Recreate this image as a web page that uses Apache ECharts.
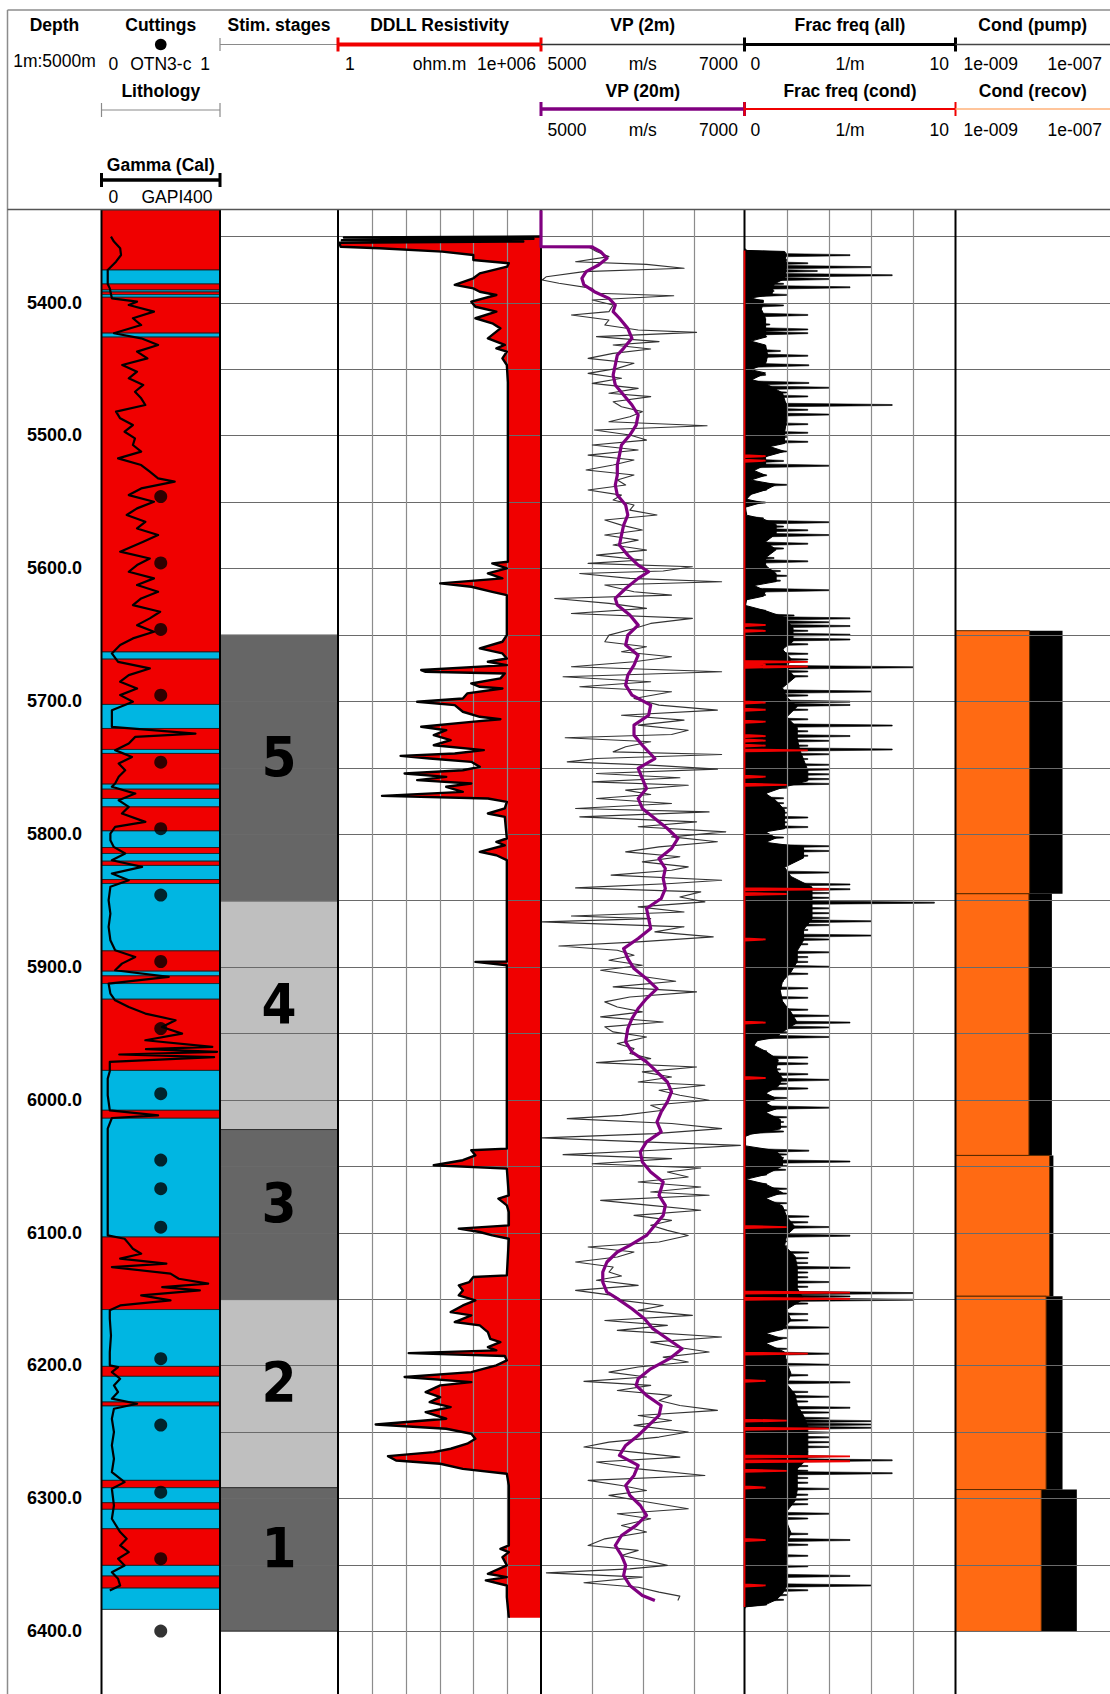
<!DOCTYPE html>
<html><head><meta charset="utf-8">
<script src="https://cdn.jsdelivr.net/npm/echarts@6/dist/echarts.min.js"></script>
<style>html,body{margin:0;padding:0;background:#fff}#c{width:1110px;height:1694px}</style>
</head><body><div id="c"></div>
<script>
// ---------------- DATA ----------------
const depthLabels = [5400,5500,5600,5700,5800,5900,6000,6100,6200,6300,6400];
const gridDepths = [5350,5400,5450,5500,5550,5600,5650,5700,5750,5800,5850,5900,5950,6000,6050,6100,6150,6200,6250,6300,6350,6400];
const ddllTicks = [10,100,1000,10000,100000];
const vpTicks = [5500,6000,6500];
const fracTicks = [2,4,6,8];

// lithology intervals: [top, base, class]  (R = red class, C = cyan class)
const lithoIntervals = [
[5330.3,5375.5,'R'],[5375.5,5386,'C'],[5386,5390.5,'R'],[5390.5,5392,'C'],[5392,5394,'R'],[5394,5396,'C'],
[5396,5423,'R'],[5423,5426,'C'],[5426,5663,'R'],[5663,5668.4,'C'],[5668.4,5702.5,'R'],[5702.5,5720.6,'C'],
[5720.6,5736.4,'R'],[5736.4,5739.4,'C'],[5739.4,5762.5,'R'],[5762.5,5766.3,'C'],[5766.3,5773.3,'R'],[5773.3,5779.6,'C'],
[5779.6,5797.7,'R'],[5797.7,5810.2,'C'],[5810.2,5814.7,'R'],[5814.7,5820.5,'C'],[5820.5,5823.7,'R'],[5823.7,5834.3,'C'],
[5834.3,5837.3,'R'],[5837.3,5888,'C'],[5888,5903.3,'R'],[5903.3,5906.8,'C'],[5906.8,5912.6,'R'],[5912.6,5924.4,'C'],
[5924.4,5978,'R'],[5978,6008,'C'],[6008,6014,'R'],[6014,6103.4,'C'],[6103.4,6158,'R'],[6158,6200.8,'C'],
[6200.8,6208.3,'R'],[6208.3,6227.6,'C'],[6227.6,6230.6,'R'],[6230.6,6286.6,'C'],[6286.6,6292.1,'R'],[6292.1,6303.4,'C'],
[6303.4,6308.4,'R'],[6308.4,6323,'C'],[6323,6350.6,'R'],[6350.6,6358.6,'C'],[6358.6,6367.7,'R'],[6367.7,6383.7,'C']
];

// cuttings samples: [depth, OTN3-c]
const cuttings = [[5546,0.5],[5596,0.5],[5646,0.5],[5695.5,0.5],[5746,0.5],[5796,0.5],[5846,0.5],[5896,0.5],[5946.5,0.5],
[5995.5,0.5],[6045.5,0.5],[6067,0.5],[6096,0.5],[6195,0.5],[6245,0.5],[6295.5,0.5],[6345.5,0.5],[6400,0.5]];

// gamma (Cal): [depth, GAPI]
const gammaLog = [[5350.3,32],[5354.1,42],[5359.1,63],[5364.2,66],[5369.2,49],[5375.4,21],[5380.5,21],[5386,21],[5389.3,28],[5396.8,35],[5399.3,120],[5401.8,92],[5406.8,177],[5411.8,106],[5416.9,134],[5423.1,42],[5426.9,134],[5431.9,191],[5436.9,120],[5442,155],[5447,70],[5452,120],[5457,92],[5462,141],[5467.1,113],[5472.1,134],[5477.1,148],[5482.1,49],[5487.1,63],[5492.2,106],[5497.2,78],[5502.2,113],[5507.2,106],[5512.2,134],[5517.3,56],[5522.3,134],[5527.3,163],[5532.3,191],[5534.8,247],[5539.9,134],[5544.9,92],[5549.9,177],[5554.9,120],[5559.9,85],[5565,148],[5570,120],[5575,191],[5580,141],[5587.5,63],[5592.6,163],[5597.6,120],[5602.6,92],[5607.6,177],[5612.6,120],[5617.7,191],[5622.7,134],[5627.7,106],[5632.7,198],[5637.7,163],[5642.8,120],[5647.8,177],[5652.8,106],[5657.8,63],[5664.1,35],[5670.4,56],[5675.4,163],[5680.4,92],[5685.4,63],[5690.5,120],[5695.5,63],[5700.5,106],[5706.8,35],[5719.4,35],[5724.4,317],[5726.9,114],[5731.9,92],[5736.9,46],[5742,103],[5747,58],[5752,80],[5757,58],[5762,46],[5764.5,35],[5769.6,114],[5774.6,58],[5779.6,92],[5784.6,69],[5790.9,148],[5794.7,46],[5799.7,30],[5804.7,30],[5809.7,41],[5814.7,80],[5819.8,35],[5824.8,137],[5829.8,35],[5834.8,92],[5839.8,30],[5849.9,24],[5859.9,30],[5870,24],[5880,30],[5887.5,46],[5892.6,114],[5897.6,69],[5902.6,46],[5907.6,227],[5912.6,24],[5920.2,30],[5925.2,46],[5930.2,92],[5935.2,148],[5940.2,250],[5945.3,204],[5950.3,272],[5955.3,148],[5960.3,374],[5962,150],[5964,390],[5966,60],[5968,380],[5971.6,28],[5978.6,28],[5984.2,21],[5996.7,21],[6008,28],[6011.8,191],[6013.8,35],[6021.8,21],[6046.9,21],[6072,21],[6089.6,21],[6102.2,21],[6104.7,78],[6108.4,92],[6112.2,106],[6116,134],[6119.7,63],[6123.5,219],[6126,35],[6131,233],[6134.8,261],[6138.5,360],[6141.1,205],[6143.6,332],[6147.3,134],[6151.1,233],[6154.9,63],[6158.6,28],[6164.9,28],[6177.5,32],[6190,28],[6200,28],[6201.3,56],[6205.1,35],[6210.1,63],[6215.1,42],[6220.1,56],[6225.1,35],[6228.9,120],[6232.7,42],[6240.2,35],[6250.2,42],[6260.3,35],[6270.3,42],[6280.4,35],[6287.9,78],[6292.9,35],[6305.5,42],[6315.5,35],[6325.5,63],[6330.6,85],[6335.6,63],[6340.6,92],[6345.6,56],[6350.6,78],[6355.7,35],[6360.7,56],[6365.7,63],[6369.5,28]];

// stimulation stages
const stageNames = ['5','4','3','2','1'];
const stageTop = [5650.3,5850.4,6022.5,6150.5,6292.1];
const stageBase = [5850.4,6022.5,6150.5,6292.1,6400];

// DDLL resistivity: [depth, ohm.m]
const ddllLog = [[5350.2,1e6],[5351,1.5],[5352,6e5],[5353,1.3],[5354,3e5],[5355,1.1],[5358,1.2],[5359.1,17],[5361.6,1200],[5364.2,10000],[5367.9,10000],[5370.4,112000],[5372.9,100000],[5378,15500],[5381.7,10000],[5386.7,2820],[5389.3,10000],[5391.8,15500],[5394.3,47900],[5399.3,8700],[5403.1,11500],[5406.8,47900],[5411.8,11500],[5415.6,36300],[5419.4,63100],[5426.9,26900],[5431.9,85100],[5434.4,47900],[5436.9,97700],[5442,72400],[5447,97700],[5460,105000],[5595.1,105000],[5596.3,36300],[5600.1,97700],[5603.9,26900],[5607.6,72400],[5611.4,1050],[5613.9,8700],[5617.7,36300],[5620.2,97700],[5650.3,97700],[5655.3,72400],[5660.3,15500],[5664.1,72400],[5667.9,97700],[5670.4,26900],[5672.9,97700],[5676.6,288],[5677.9,389],[5679.2,85100],[5682.9,63100],[5686.7,8700],[5689.2,15500],[5690.5,72400],[5694.2,6600],[5698,4900],[5700.5,219],[5703,2820],[5708,4900],[5711.8,15500],[5713.6,63100],[5715.6,8700],[5719.3,288],[5721.9,1580],[5725.6,676],[5729.4,2140],[5733.2,676],[5736.9,20400],[5739.4,2820],[5741.2,71],[5743.2,513],[5745.7,8700],[5749.5,15500],[5752,4900],[5754.5,93],[5757,1580],[5759.5,219],[5762,8700],[5764.5,1580],[5768.3,4900],[5771.3,20],[5773.3,26900],[5775.8,97700],[5780.8,85100],[5784.6,26900],[5787.1,85100],[5803.4,97700],[5805.9,47900],[5808.5,85100],[5813.5,15500],[5816,47900],[5819.7,97700],[5896,97700],[5896.3,11500],[5898.8,97700],[6036.9,97700],[6038.1,8700],[6041.9,11500],[6045.6,4900],[6049.4,676],[6051.9,97700],[6072,112000],[6074.5,55000],[6079.6,97700],[6084.6,112000],[6094.6,112000],[6097.1,3720],[6099.6,15500],[6102.2,36300],[6104.7,112000],[6132.3,97700],[6133.5,10000],[6137.3,7600],[6139.8,3720],[6143.6,4900],[6147.3,3720],[6151.1,11500],[6154.9,4900],[6159.9,2140],[6162.4,8700],[6167.4,2820],[6169.9,15500],[6175,26900],[6180,31600],[6182.5,63100],[6186.2,26900],[6188.7,47900],[6190.8,123],[6193,85100],[6196.3,97700],[6200,47900],[6205.1,8700],[6208.8,93],[6212.6,8700],[6215.1,1050],[6220.1,389],[6223.9,1050],[6227.7,513],[6231.4,2140],[6235.2,389],[6240.2,1580],[6244.5,13],[6247.7,1580],[6251.5,8700],[6255.3,11500],[6259,6600],[6262.8,2140],[6265.3,676],[6268.3,30],[6271.6,52],[6274.1,1050],[6277.9,4900],[6281.6,97700],[6290.4,112000],[6335.6,112000],[6338.1,63100],[6340.6,112000],[6344.4,72400],[6350.6,97700],[6356.9,26900],[6359.4,97700],[6361.9,23400],[6365.7,97700],[6374.5,97700],[6390,112000]];

// VP (20m): [depth, m/s]
const vp20Log = [[5330.5,5000],[5357.9,5000],[5358,5504],[5359.1,5525],[5361.6,5586],[5366.7,5648],[5371.7,5566],[5376.7,5443],[5381.7,5402],[5386.7,5422],[5391.8,5525],[5396.8,5668],[5401.8,5730],[5406.8,5709],[5411.8,5771],[5419.4,5853],[5426.9,5894],[5434.4,5812],[5439.5,5750],[5447,5730],[5454.5,5709],[5462,5730],[5469.6,5812],[5477.1,5894],[5484.6,5955],[5492.2,5935],[5499.7,5873],[5507.2,5791],[5514.8,5771],[5522.3,5750],[5529.8,5750],[5537.3,5730],[5544.9,5750],[5552.4,5832],[5559.9,5853],[5567.5,5812],[5575,5791],[5582.5,5771],[5590.1,5853],[5597.6,5955],[5602.6,6058],[5607.6,5955],[5615.2,5832],[5622.7,5730],[5627.7,5750],[5635.2,5873],[5642.8,5955],[5650.3,5853],[5657.8,5832],[5665.4,5955],[5672.9,5914],[5680.4,5853],[5687.9,5832],[5695.5,5894],[5703,6078],[5710.6,6058],[5718.1,5914],[5725.6,5914],[5733.2,5996],[5743.2,6119],[5750.7,5955],[5758.3,5996],[5765.8,6037],[5773.3,5955],[5780.8,5996],[5788.4,6119],[5795.9,6242],[5803.4,6345],[5811,6283],[5818.5,6160],[5826,6222],[5833.6,6201],[5841.1,6222],[5848.6,6181],[5856.1,6037],[5863.7,6058],[5871.2,6078],[5878.7,5955],[5886.3,5812],[5893.8,5853],[5901.3,5914],[5908.9,6037],[5916.4,6140],[5923.9,6037],[5931.4,5955],[5939,5894],[5946.5,5853],[5956.5,5832],[5964.1,5894],[5971.6,6037],[5979.1,6140],[5986.7,6242],[5994.2,6283],[6001.7,6242],[6009.3,6181],[6016.8,6140],[6024.3,6181],[6031.8,6037],[6039.4,5976],[6046.9,5996],[6054.4,6078],[6062,6201],[6072,6160],[6079.6,6222],[6087.1,6201],[6094.6,6119],[6102.2,6037],[6109.7,5873],[6114.7,5750],[6122.2,5648],[6129.8,5607],[6137.3,5607],[6144.8,5648],[6149.8,5750],[6157.4,5894],[6164.9,6017],[6172.4,6099],[6180,6242],[6187.5,6386],[6195,6263],[6202.6,6078],[6210.1,5955],[6215.1,5935],[6222.6,6037],[6230.2,6181],[6237.7,6160],[6245.2,6058],[6252.8,5955],[6260.3,5832],[6267.8,5771],[6275.3,5955],[6282.9,5914],[6290.4,5832],[6297.9,5873],[6305.5,5976],[6313,6037],[6320.5,5935],[6328.1,5791],[6335.6,5730],[6343.1,5791],[6350.6,5832],[6358.2,5812],[6365.7,5873],[6373.2,5996],[6377,6119]];

// VP (2m): [depth, m/s]
const vp2Log = [[5357.9,5463],[5361.6,5545],[5365.4,5668],[5369.2,5340],[5371.2,6037],[5374.2,6406],[5376.7,5422],[5380.5,5053],[5383,5012],[5385.5,5176],[5389.3,5504],[5393,5545],[5394.8,6304],[5398,5504],[5401.8,5709],[5406.8,5668],[5409.3,5299],[5413.1,5668],[5416.9,5627],[5420.6,5955],[5422.4,6529],[5425.6,5545],[5429.4,6160],[5431.9,5709],[5434.9,6078],[5438.2,5709],[5442,5463],[5445.7,5914],[5449.5,5750],[5453.3,5463],[5457,5791],[5460.8,5504],[5464.6,5955],[5468.3,5668],[5470.8,6078],[5474.6,5709],[5478.4,5791],[5482.1,5996],[5485.9,5873],[5489.7,5668],[5492.7,6632],[5495.9,5525],[5499.7,5873],[5503.5,6037],[5507.2,5504],[5511,5955],[5514.8,5463],[5518.5,5914],[5522.3,5709],[5526,5443],[5529.8,5914],[5533.6,5750],[5537.3,5832],[5541.1,5463],[5544.9,5791],[5548.6,5709],[5552.4,5914],[5556.2,5873],[5559.9,6140],[5563.7,5627],[5567.5,5791],[5571.2,5996],[5575,5627],[5578.8,5955],[5582.5,5709],[5586.3,6037],[5590.1,5545],[5593.8,5996],[5596.3,5463],[5598.8,6488],[5602.1,6201],[5603.9,5381],[5607.6,5873],[5610.1,6775],[5612.6,5627],[5617.7,5914],[5620.2,6283],[5622.7,5135],[5626.4,5668],[5630.2,6037],[5634,5299],[5637.7,6488],[5641.5,6078],[5645.3,5914],[5650.3,5668],[5655.3,5627],[5659.1,6037],[5662.8,5791],[5666.6,6283],[5670.4,5914],[5674.1,5299],[5677.9,6775],[5681.7,5217],[5685.4,6078],[5689.2,5381],[5693,6283],[5698,5914],[5703,6160],[5706.8,6734],[5710.6,5791],[5714.3,6406],[5718.1,5955],[5721.9,6447],[5725.1,6283],[5727.6,5238],[5730.6,6078],[5734.4,5832],[5738.2,5709],[5740.2,6775],[5743.2,5545],[5745.7,5258],[5748.2,6078],[5751.2,6734],[5754.5,5545],[5757.7,6365],[5760.8,5504],[5763.3,6447],[5767,5832],[5770.3,6078],[5773.3,5545],[5777.1,6283],[5780.8,5340],[5783.4,6652],[5787.1,5381],[5790.9,6529],[5794.6,5955],[5798.4,6816],[5802.2,6283],[5805.9,6734],[5809.7,6160],[5813.5,5832],[5817.2,6365],[5821,5996],[5824.8,6447],[5827.3,6283],[5831,5689],[5834.8,6775],[5837.3,6283],[5840.6,5340],[5843.6,6570],[5847.4,6365],[5851.1,6611],[5854.9,5955],[5858.7,6406],[5861.7,5299],[5863.7,6078],[5866.2,5012],[5869.9,6406],[5873.7,6119],[5877.5,6693],[5881.2,5955],[5884.3,5176],[5887.5,5750],[5891.3,5914],[5895,5668],[5898.8,5996],[5902.6,5586],[5906.3,5914],[5910.9,6324],[5915.1,5709],[5918.9,6529],[5922.7,5873],[5926.4,5627],[5930.2,5750],[5933.9,5996],[5937.7,5586],[5941.5,6201],[5945.2,5627],[5949,5709],[5952.8,6037],[5957.8,5750],[5961.6,5914],[5965.3,5873],[5969.1,6078],[5972.1,5545],[5975.4,6529],[5979.1,5996],[5982.9,6283],[5986.7,5955],[5989.2,6611],[5992.9,6160],[5996.7,6365],[6000.5,6652],[6004.2,6078],[6008,6201],[6011.8,5791],[6014.3,5258],[6018,6283],[6021.8,6775],[6025.6,6119],[6028.8,5012],[6031.8,5996],[6034.4,6960],[6038.1,6119],[6041.4,5217],[6044.4,6283],[6048.2,5504],[6051.4,6570],[6054.4,6242],[6058.2,6447],[6062,5955],[6065.7,6570],[6069.5,6078],[6072,6652],[6075.8,5586],[6079.6,6078],[6083.3,6570],[6087.1,5914],[6090.9,6283],[6094.6,6078],[6098.4,6242],[6102.2,6447],[6107.2,6160],[6110.9,5463],[6114.7,5914],[6118.5,5750],[6122.2,5340],[6126,5709],[6129.8,5668],[6132.8,5791],[6136,5545],[6139.8,5955],[6143.6,5340],[6147.3,5709],[6151.1,5791],[6154.9,6201],[6158.6,5955],[6162.4,6488],[6166.2,5627],[6169.9,6242],[6173.7,5750],[6178.7,6775],[6182.5,6078],[6186.2,6324],[6190,6652],[6193.8,6201],[6197.5,6447],[6201.3,5955],[6205.1,5668],[6208.8,6037],[6212.1,5422],[6215.1,6078],[6218.9,5750],[6222.6,6283],[6226.4,6160],[6230.2,6365],[6233.9,6734],[6237.7,5955],[6241.5,6283],[6245.2,5914],[6250.2,6447],[6254,6160],[6257.8,5668],[6261.5,5422],[6265.3,5914],[6269.1,6365],[6272.8,5545],[6277.9,5955],[6282.9,6611],[6286.6,5463],[6290.4,5791],[6294.2,6037],[6297.9,5668],[6301.7,5955],[6308,6447],[6311.7,5750],[6315.5,6078],[6320.5,5791],[6325.5,6037],[6330.6,5627],[6335.6,5463],[6339.3,5955],[6343.1,5791],[6346.9,6037],[6350.6,6242],[6353.2,5873],[6356.2,5053],[6359.4,5996],[6363.7,5422],[6367,5955],[6370.7,6160],[6373.7,6365],[6377,6345]];

// Frac freq (all), spike readings: [depth, 1/m]
const fracAllLog = [[5360.7,0.1],[5362.5,1.95],[5364.3,5],[5367.9,2],[5370.4,3],[5373.3,6],[5376.2,3.45],[5379.4,7],[5382.3,4],[5385.9,1.85],[5388.5,5],[5391.3,1.4],[5394.2,2],[5396.7,0.35],[5398.5,0.9],[5402.1,1.85],[5405.7,0.75],[5409.3,3],[5412.9,1],[5416.5,1.2],[5420.2,3],[5423,3],[5425.6,1.05],[5429.2,0.3],[5432.8,1],[5436.4,1.7],[5440,3],[5443.6,1.05],[5447.2,3.05],[5450.8,0.3],[5454.4,1],[5458,0.35],[5460.5,3.05],[5464.1,4],[5467.7,2],[5470.6,3],[5474.2,1.85],[5477.1,7],[5480.7,3],[5484.3,4],[5487.9,2],[5491.5,3],[5495.1,1.85],[5498,3],[5501.2,2],[5504.8,3],[5508.4,1.2],[5512,2],[5515.6,1.05],[5519.2,1.85],[5522.8,4],[5526.4,0.45],[5530,1.05],[5533.6,0.3],[5537.2,2],[5540.8,1.05],[5544.4,0.3],[5548,0.1],[5550.5,1],[5554.1,0.05],[5558.8,0.1],[5562.4,0.9],[5565.3,4],[5568.6,1.85],[5571.4,3],[5575,4],[5578.6,1.05],[5581.5,3],[5585.1,1.85],[5588.7,1],[5592.3,1.4],[5594.8,3],[5598.4,1.05],[5602.1,1.7],[5605.7,2],[5609.3,1.7],[5612.9,0.45],[5616.5,4],[5620.1,1],[5623.7,0.1],[5627.3,0.05],[5631.9,1],[5635.5,2.35],[5637.7,5],[5640.6,4],[5643.5,5],[5647.1,3],[5650,5],[5653.6,5],[5657.2,3],[5660.8,1.85],[5664.4,3],[5668.7,3],[5671.6,2],[5674.5,8],[5677.7,3],[5681.3,3],[5684.9,2],[5688.5,1.85],[5692.8,6],[5695.7,3],[5700.4,5],[5702.9,5],[5706.5,3],[5710.1,2],[5713.7,3],[5718.4,7],[5722.7,3],[5726.3,5],[5729.9,4],[5733.5,3],[5736.4,7],[5740,4],[5743.6,3],[5747.9,4],[5751.5,4],[5755.1,4],[5758.7,4],[5762.3,4],[5765.2,2],[5769.5,1.05],[5773.1,1.85],[5776.8,1.85],[5780.4,2],[5784,2],[5787.6,3],[5791.2,2],[5794.8,3],[5798.4,1.05],[5802.7,1.85],[5806.3,1.05],[5809.2,4],[5812.8,4],[5816.4,3],[5820,2],[5825.4,1.85],[5829,4],[5832.6,2],[5838,5],[5841.6,5],[5844.5,4],[5848.1,4],[5851.7,9],[5856,4],[5859.6,4],[5863.2,4],[5865.7,6],[5868.6,4],[5872.2,3],[5876.5,6],[5879.4,4],[5883,3],[5889.1,4],[5892.7,3],[5896.3,3],[5899.9,4],[5905.3,3],[5910.7,1.85],[5916.1,3],[5919.7,1.7],[5923.3,3],[5926.9,1.85],[5932.3,3],[5936.9,4],[5942,5],[5945.6,4],[5949.2,2],[5952.8,4],[5955.6,0.6],[5959.2,0.45],[5963.6,1.05],[5968.2,3],[5972.9,3],[5977.2,1.7],[5980.8,3],[5985.1,4],[5988,2],[5991.6,3],[5995.2,1.05],[5998.8,2],[6002.4,1.05],[6006,4],[6009.6,1.05],[6013.2,2],[6016.8,1.85],[6020.4,2],[6024,1.85],[6027.6,0.05],[6031.9,0.05],[6034.8,0.05],[6038.4,3.05],[6041.2,2],[6043.8,1.85],[6046.6,5],[6049.9,2],[6052.8,1.95],[6056.4,1.05],[6060,0.05],[6063.6,1.05],[6067.1,2],[6070.7,2],[6074.3,1.05],[6077.9,2],[6083.3,2],[6088,3.05],[6092.3,3],[6095.9,4],[6099.5,1.85],[6102.4,5],[6106.7,2],[6110.3,2],[6115,3.05],[6119.3,3],[6122.9,3],[6126.5,5],[6130.1,3],[6133.7,3],[6137.3,4],[6140.9,3],[6145.6,8],[6148.1,5],[6150.6,8],[6153.5,3],[6157.1,2],[6161.4,3],[6166.1,3],[6171.5,4],[6175.8,1.05],[6179.4,2],[6183.3,1.05],[6187.6,2],[6191.2,4],[6195.9,2],[6199.5,4],[6203.1,2],[6207.4,3],[6212.8,5],[6216.4,2],[6220,3],[6223.6,4],[6227.2,3],[6231.9,5],[6235.5,4],[6239.8,4],[6242,6],[6244.5,6],[6247,6],[6250.6,4],[6254.2,4],[6257.8,4],[6261.4,4],[6265,3],[6268.6,4],[6271.5,7],[6275.8,3],[6279.4,3],[6281.2,7],[6284.8,3],[6288.4,3],[6293,4],[6297.4,3],[6301,3],[6304.5,3],[6308.1,2],[6311.7,4],[6315.3,3],[6318.9,2],[6322.5,2],[6326.9,3],[6331.5,5],[6335.1,3],[6338.7,2],[6343.4,3],[6347.7,2],[6351.3,3],[6354.9,2],[6358.5,5],[6362.1,2],[6365.7,6],[6369.3,3],[6372.9,2],[6376.5,1.85],[6380.1,1.05],[6381.9,0.05]];

// Frac freq (all), level of the dense core between spikes: [depth, 1/m]
const fracAllCore = [[5360.7,0],[5361.5,1.9],[5372,2],[5382,1.9],[5386,1.4],[5394,1.3],[5396.5,0.3],[5399,0.9],[5405,0.8],[5412,1.0],[5420,1.0],[5426,1.0],[5429,0.3],[5432,1.0],[5440,1.1],[5446,1.0],[5450.5,0.3],[5453,1.0],[5458,0.35],[5461,1.0],[5468,1.8],[5478,2],[5488,2],[5498,1.9],[5506,1.9],[5508.4,1.2],[5512,1.9],[5516,1.0],[5522,1.0],[5526.4,0.45],[5530,1.0],[5533.6,0.3],[5537,1.5],[5541,1.0],[5544.4,0.3],[5548,0.1],[5550.5,0.8],[5554,0.05],[5560,0.1],[5563,0.9],[5567,1.5],[5574,1.5],[5580,1.0],[5586,1.5],[5592,1.0],[5598,1.0],[5604,1.5],[5610,1.5],[5613,0.45],[5617,1.0],[5621,0.9],[5623.7,0.1],[5628,0.05],[5632,1.0],[5637,1.9],[5645,2.3],[5655,2.3],[5661,1.8],[5668,2.2],[5675,2.0],[5682,2.4],[5690,1.8],[5697,2.0],[5704,2.5],[5712,2.0],[5720,2.5],[5728,2.5],[5736,2.6],[5744,2.8],[5752,3],[5760,3],[5765,1.8],[5769.5,1.0],[5775,1.5],[5782,1.9],[5790,1.9],[5796,1.9],[5798.4,1.0],[5803,1.5],[5806.3,1.0],[5810,2.8],[5818,2.8],[5825,1.9],[5832,2.2],[5840,3.2],[5848,3.2],[5856,3.2],[5864,3.2],[5872,2.8],[5880,2.8],[5888,2.5],[5896,2.5],[5904,2.2],[5911,1.8],[5918,1.7],[5926,1.8],[5934,2.2],[5942,2.5],[5949,1.8],[5953,1.5],[5955.6,0.6],[5959.2,0.45],[5963.6,1.0],[5970,1.6],[5977,1.5],[5984,1.8],[5990,1.6],[5995.2,1.0],[5999,1.5],[6002.4,1.0],[6007,1.5],[6009.6,1.0],[6015,1.7],[6022,1.7],[6026,0.3],[6027.6,0.05],[6034.8,0.05],[6038.4,1.5],[6044,1.8],[6050,1.8],[6056.4,1.0],[6060,0.05],[6063.6,1.0],[6070,1.8],[6074.3,1.0],[6080,1.8],[6088,2],[6096,2.4],[6102,2],[6110,1.9],[6118,2.4],[6126,2.5],[6134,2.5],[6142,2.5],[6150,2.8],[6158,2],[6166,2.2],[6173,1.8],[6175.8,1.0],[6180,1.8],[6183.3,1.0],[6190,1.9],[6198,2],[6206,2.2],[6214,2],[6222,2.4],[6230,2.5],[6238,2.8],[6246,3],[6254,3],[6262,3],[6270,3],[6278,2.5],[6286,2.5],[6294,2.5],[6302,2.4],[6310,2],[6318,2],[6326,2.2],[6334,2],[6342,2],[6350,2],[6358,2],[6366,2],[6372,1.8],[6376.5,1.5],[6380.1,1.0],[6381.9,0]];

// Frac freq (cond): [depth, 1/m]
const fracCondLog = [[5360.7,0],[5514.8,0],[5515.6,1],[5516.4,0],[5518.2,0],[5519,1],[5519.8,0],[5641.9,0],[5642.7,1],[5643.5,0],[5646.3,0],[5647.1,1],[5647.9,0],[5669.7,0],[5670.5,3],[5671.3,0],[5671.7,0],[5672.5,1],[5673.3,0],[5673.3,0],[5674.1,3],[5674.9,0],[5700.3,0],[5701.1,1],[5701.9,0],[5705.7,0],[5706.5,1],[5707.3,0],[5714.7,0],[5715.5,1],[5716.3,0],[5725.5,0],[5726.3,1],[5727.1,0],[5728.9,0],[5729.7,1],[5730.5,0],[5732.7,0],[5733.5,1],[5734.3,0],[5736.3,0],[5737.1,3],[5737.9,0],[5756.1,0],[5756.9,1],[5757.7,0],[5762.2,0],[5763,2],[5763.8,0],[5840.8,0],[5841.6,4],[5842.4,0],[5844.4,0],[5845.2,2],[5846,0],[5878.6,0],[5879.4,1],[5880.2,0],[5941.2,0],[5942,1],[5942.8,0],[5982.9,0],[5983.7,1],[5984.5,0],[6095.1,0],[6095.9,2],[6096.7,0],[6144.4,0],[6145.2,5],[6146,0],[6149.1,0],[6149.9,5],[6150.7,0],[6190.4,0],[6191.2,3],[6192,0],[6210.9,0],[6211.7,1],[6212.5,0],[6240.8,0],[6241.6,2],[6242.4,0],[6246.9,0],[6247.7,4],[6248.5,0],[6267.8,0],[6268.6,5],[6269.4,0],[6271.4,0],[6272.2,5],[6273,0],[6278.6,0],[6279.4,2],[6280.2,0],[6291.2,0],[6292,1],[6292.8,0],[6330.7,0],[6331.5,1],[6332.3,0],[6364.9,0],[6365.7,1],[6366.5,0],[6381.9,0]];

// conductivity per stage interval
const condTop = [5647,5845,6042,6148,6293.5];
const condBase = [5845,6042,6148,6293.5,6400.3];
const condPump = [2.43e-8,1.77e-8,1.85e-8,2.43e-8,3.72e-8];
const condRecov = [9.1e-9,8.93e-9,1.65e-8,1.49e-8,1.29e-8];

// ---------------- LAYOUT / STYLE ----------------
const TOP = 210, H = 1484, YMIN = 5330.3, YMAX = 6447.4;
const TR = [[7.5,101.5],[101.5,220],[220,338],[338,541],[541,744.5],[744.5,955.5],[955.5,1110]];
const RED = '#F00000', CYAN = '#00B6E2', PURPLE = '#800080', ORANGE = '#FF6A13';
const FONT = "'Liberation Sans', Arial, sans-serif";
const BIG = "'Liberation Sans Narrow','DejaVu Sans Condensed','Liberation Sans',sans-serif";

const chart = echarts.init(document.getElementById('c'), null, {renderer: 'svg', width: 1110, height: 1694});

const grids = TR.map(t => ({left: t[0], top: TOP, width: t[1] - t[0], height: H, show: false}));
const yAxes = TR.map((t, i) => ({gridIndex: i, type: 'value', min: YMIN, max: YMAX, inverse: true, show: false}));
const xAxes = [
  {gridIndex: 0, type: 'value', min: 0, max: 1, show: false},
  {gridIndex: 1, type: 'value', min: 0, max: 400, show: false},
  {gridIndex: 1, type: 'value', min: 0, max: 1, show: false, position: 'top'},
  {gridIndex: 2, type: 'value', min: 0, max: 1, show: false},
  {gridIndex: 3, type: 'log', logBase: 10, min: 1, max: 1e6, show: false},
  {gridIndex: 4, type: 'value', min: 5000, max: 7000, show: false},
  {gridIndex: 5, type: 'value', min: 0, max: 10, show: false},
  {gridIndex: 6, type: 'log', logBase: 10, min: 1e-9, max: 1e-7, show: false}
];

const crisp = v => Math.round(v) + 0.5;

function hGrid(xi, yi, xRef, z) {
  return {type: 'custom', xAxisIndex: xi, yAxisIndex: yi, z: z, silent: true, animation: false,
    encode: {x: 0, y: 1}, data: gridDepths.map(d => [xRef, d]),
    renderItem: (p, api) => {
      const cs = p.coordSys; const y = crisp(api.coord([api.value(0), api.value(1)])[1]);
      return {type: 'line', shape: {x1: cs.x, y1: y, x2: cs.x + cs.width, y2: y}, style: {stroke: '#6a6a6a', lineWidth: 1.2}};
    }};
}
function vGrid(xi, yi, ticks, z) {
  return {type: 'custom', xAxisIndex: xi, yAxisIndex: yi, z: z, silent: true, animation: false,
    encode: {x: 0, y: 1}, data: ticks.map(v => [v, YMIN]),
    renderItem: (p, api) => {
      const cs = p.coordSys; const x = crisp(api.coord([api.value(0), api.value(1)])[0]);
      return {type: 'line', shape: {x1: x, y1: cs.y, x2: x, y2: cs.y + cs.height}, style: {stroke: '#8c8c8c', lineWidth: 1.2}};
    }};
}
// filled polygon between a log curve and a fixed axis value (edge)
function fillSeries(xi, yi, log, edge, fill, stroke, z, sw) {
  return {type: 'custom', xAxisIndex: xi, yAxisIndex: yi, z: z, silent: true, animation: false,
    encode: {x: 0, y: 1}, data: log.map(([d, v]) => [v, d]),
    renderItem: (p, api) => {
      if (p.dataIndex !== 0) return null;
      const pts = log.map(([d, v]) => api.coord([v, d]));
      pts.push(api.coord([edge, log[log.length - 1][0]]));
      pts.unshift(api.coord([edge, log[0][0]]));
      return {type: 'polygon', shape: {points: pts}, style: {fill: fill, stroke: stroke || null, lineWidth: stroke ? (sw || 1.6) : 0, lineJoin: 'miter'}};
    }};
}
// tapering horizontal spikes from zero to each reading
function spikeSeries(xi, yi, log, color, halfH, z) {
  return {type: 'custom', xAxisIndex: xi, yAxisIndex: yi, z: z, silent: true, animation: false,
    encode: {x: 0, y: 1}, data: log.map(([d, v]) => [v, d]),
    renderItem: (p, api) => {
      const a = api.coord([0, api.value(1)]), b = api.coord([api.value(0), api.value(1)]);
      return {type: 'polygon', shape: {points: [[a[0], a[1] - halfH], [b[0], b[1] - 0.5], [b[0], b[1] + 0.5], [a[0], a[1] + halfH]]},
        style: {fill: color, stroke: color, lineWidth: 0.6}};
    }};
}
function lineSeries(xi, yi, log, color, width, z) {
  return {type: 'line', xAxisIndex: xi, yAxisIndex: yi, z: z, silent: true, animation: false,
    data: log.map(([d, v]) => [v, d]), showSymbol: false, symbol: 'none',
    lineStyle: {color: color, width: width, join: 'round'}};
}

const series = [];
// depth labels
series.push({type: 'custom', xAxisIndex: 0, yAxisIndex: 0, z: 5, silent: true, animation: false,
  encode: {x: 0, y: 1}, data: depthLabels.map(d => [0.5, d]),
  renderItem: (p, api) => {
    const pt = api.coord([api.value(0), api.value(1)]);
    return {type: 'text', x: pt[0], y: pt[1], style: {text: api.value(1).toFixed(1), fill: '#000',
      font: 'bold 18px ' + FONT, align: 'center', verticalAlign: 'middle', textAlign: 'center', textVerticalAlign: 'middle'}};
  }});
// lithology
series.push({type: 'custom', xAxisIndex: 1, yAxisIndex: 1, z: 1, silent: true, animation: false,
  encode: {x: 0, y: [1, 2]}, data: lithoIntervals.map(([t, b]) => [0, t, b]),
  renderItem: (p, api) => {
    const cs = p.coordSys; const it = lithoIntervals[p.dataIndex];
    const y1 = api.coord([0, it[0]])[1], y2 = api.coord([0, it[1]])[1];
    return {type: 'rect', shape: {x: cs.x, y: y1, width: cs.width, height: y2 - y1},
      style: {fill: it[2] === 'R' ? RED : CYAN, stroke: '#1a1a1a', lineWidth: 0.8}};
  }});
series.push(lineSeries(1, 1, gammaLog, '#000', 2.2, 3));
series.push({type: 'scatter', xAxisIndex: 2, yAxisIndex: 1, z: 4, silent: true, animation: false,
  data: cuttings.map(([d, v]) => [v, d]), symbol: 'circle', symbolSize: 13, itemStyle: {color: '#000'}});
// stim stages
series.push({type: 'custom', xAxisIndex: 3, yAxisIndex: 2, z: 1, silent: true, animation: false,
  encode: {x: 0, y: [1, 2]}, data: stageNames.map((n, i) => [0.5, stageTop[i], stageBase[i]]),
  renderItem: (p, api) => {
    const cs = p.coordSys; const i = p.dataIndex;
    const y1 = api.coord([0.5, stageTop[i]])[1], y2 = api.coord([0.5, stageBase[i]])[1];
    const dark = (+stageNames[i]) % 2 === 1;
    return {type: 'rect', shape: {x: cs.x, y: y1, width: cs.width, height: y2 - y1},
      style: {fill: dark ? '#666666' : '#BFBFBF', stroke: '#333', lineWidth: 1}};
  }});
series.push(hGrid(3, 2, 0.5, 2));
series.push({type: 'custom', xAxisIndex: 3, yAxisIndex: 2, z: 4, silent: true, animation: false,
  encode: {x: 0, y: 1}, data: stageNames.map((n, i) => [0.5, (stageTop[i] + stageBase[i]) / 2]),
  renderItem: (p, api) => {
    const pt = api.coord([api.value(0), api.value(1)]);
    return {type: 'text', x: pt[0], y: pt[1] - 12, style: {text: stageNames[p.dataIndex], fill: '#000',
      font: 'bold 56px ' + BIG, align: 'center', verticalAlign: 'middle', textAlign: 'center', textVerticalAlign: 'middle'}};
  }});
// DDLL
series.push(fillSeries(4, 3, ddllLog, 1e6, RED, null, 1));
series.push(hGrid(4, 3, 1, 2));
series.push(vGrid(4, 3, ddllTicks, 2));
series.push(lineSeries(4, 3, ddllLog, '#000', 2.4, 3));
// VP
series.push(hGrid(5, 4, 5000, 1));
series.push(vGrid(5, 4, vpTicks, 1));
series.push(lineSeries(5, 4, vp2Log, '#333', 1.1, 2));
series.push(lineSeries(5, 4, vp20Log, PURPLE, 3.2, 60));
// Frac
series.push(fillSeries(6, 5, fracAllCore, 0, '#000', '#000', 1, 1));
series.push(spikeSeries(6, 5, fracAllLog, '#000', 2.2, 1));
series.push(fillSeries(6, 5, fracCondLog, 0, RED, RED, 60, 1.8));
series.push(hGrid(6, 5, 0, 3));
series.push(vGrid(6, 5, fracTicks, 3));
// Cond
function condRects(vals, fill, stroke, z) {
  return {type: 'custom', xAxisIndex: 7, yAxisIndex: 6, z: z, silent: true, animation: false,
    encode: {x: 0, y: [1, 2]}, data: vals.map((v, i) => [v, condTop[i], condBase[i]]),
    renderItem: (p, api) => {
      const i = p.dataIndex;
      const a = api.coord([1e-9, condTop[i]]), b = api.coord([vals[i], condBase[i]]);
      return {type: 'rect', shape: {x: a[0], y: a[1], width: b[0] - a[0], height: b[1] - a[1]},
        style: {fill: fill, stroke: stroke, lineWidth: stroke ? 1 : 0}};
    }};
}
series.push(condRects(condPump, '#000', null, 1));
series.push(condRects(condRecov, ORANGE, '#5a2a00', 2));
series.push(hGrid(7, 6, 1e-9, 3));

// ---------------- HEADER (graphic) ----------------
const G = [];
const cx = i => (TR[i][0] + TR[i][1]) / 2;
function T(x, y, s, bold, align) {
  G.push({type: 'text', x: x, y: y, z: 100, silent: true, style: {text: s, fill: '#000',
    font: (bold ? 'bold ' : '') + '17.5px ' + FONT, align: align || 'center', verticalAlign: 'middle',
    textAlign: align || 'center', textVerticalAlign: 'middle'}});
}
function L(x1, y1, x2, y2, color, w, z) {
  G.push({type: 'line', z: z || 100, silent: true, shape: {x1: x1, y1: y1, x2: x2, y2: y2}, style: {stroke: color, lineWidth: w}});
}
function scale(i, y, color, w, ticks, tickW) {
  L(TR[i][0], y, TR[i][1], y, color, w);
  if (ticks) { L(TR[i][0], y - 7, TR[i][0], y + 7, color, tickW || w); L(TR[i][1], y - 7, TR[i][1], y + 7, color, tickW || w); }
}
// frame
L(7.5, 10, 1110, 10, '#8c8c8c', 1.5);
L(7.5, 10, 7.5, 1694, '#8c8c8c', 1.5);
L(7.5, 209.5, 1110, 209.5, '#555', 1.5);
for (let i = 1; i < TR.length; i++) L(TR[i][0], 209.5, TR[i][0], 1694, '#000', 2, 50);
// titles row 1
T(cx(0), 25, 'Depth', true);
T(cx(0), 61, '1m:5000m', false);
T(cx(1), 25, 'Cuttings', true);
G.push({type: 'circle', z: 100, silent: true, shape: {cx: cx(1), cy: 44.5, r: 5.8}, style: {fill: '#000'}});
T(TR[1][0] + 7, 64, '0', false, 'left'); T(cx(1), 64, 'OTN3-c', false); T(TR[1][1] - 10, 64, '1', false, 'right');
T(cx(1), 91, 'Lithology', true);
scale(1, 110, '#8a8a8a', 1.2, true);
T(cx(1), 165, 'Gamma (Cal)', true);
scale(1, 180, '#000', 3.5, true, 3);
T(TR[1][0] + 7, 197, '0', false, 'left'); T(TR[1][1] - 7.5, 197, 'GAPI400', false, 'right');
T(cx(2), 25, 'Stim. stages', true);
L(TR[2][0], 44.5, TR[2][1], 44.5, '#8a8a8a', 1.2); L(TR[2][0], 38, TR[2][0], 51, '#8a8a8a', 1.2);
T(cx(3), 25, 'DDLL Resistivity', true);
scale(3, 44.5, RED, 4, true, 3);
T(TR[3][0] + 7, 64, '1', false, 'left'); T(cx(3), 64, 'ohm.m', false); T(TR[3][1] - 5, 64, '1e+006', false, 'right');
T(cx(4), 25, 'VP (2m)', true);
L(TR[4][0], 44.5, TR[4][1], 44.5, '#333', 1.3);
T(TR[4][0] + 6.5, 64, '5000', false, 'left'); T(cx(4), 64, 'm/s', false); T(TR[4][1] - 6.5, 64, '7000', false, 'right');
T(cx(4), 91, 'VP (20m)', true);
scale(4, 109, PURPLE, 3.5, true, 3);
T(TR[4][0] + 6.5, 130, '5000', false, 'left'); T(cx(4), 130, 'm/s', false); T(TR[4][1] - 6.5, 130, '7000', false, 'right');
T(cx(5), 25, 'Frac freq (all)', true);
scale(5, 44.5, '#000', 3, true, 3);
T(TR[5][0] + 6, 64, '0', false, 'left'); T(cx(5), 64, '1/m', false); T(TR[5][1] - 6.5, 64, '10', false, 'right');
T(cx(5), 91, 'Frac freq (cond)', true);
scale(5, 109, RED, 2, true, 2);
T(TR[5][0] + 6, 130, '0', false, 'left'); T(cx(5), 130, '1/m', false); T(TR[5][1] - 6.5, 130, '10', false, 'right');
T(cx(6), 25, 'Cond (pump)', true);
L(TR[6][0], 44.5, TR[6][1], 44.5, '#444', 1.3);
T(TR[6][0] + 8, 64, '1e-009', false, 'left'); T(TR[6][1] - 8, 64, '1e-007', false, 'right');
T(cx(6), 91, 'Cond (recov)', true);
L(TR[6][0], 109, TR[6][1], 109, '#FFB27A', 1.5);
T(TR[6][0] + 8, 130, '1e-009', false, 'left'); T(TR[6][1] - 8, 130, '1e-007', false, 'right');

chart.setOption({
  animation: false,
  backgroundColor: '#fff',
  grid: grids, xAxis: xAxes, yAxis: yAxes,
  series: series,
  graphic: {elements: G}
});
</script>
</body></html>
